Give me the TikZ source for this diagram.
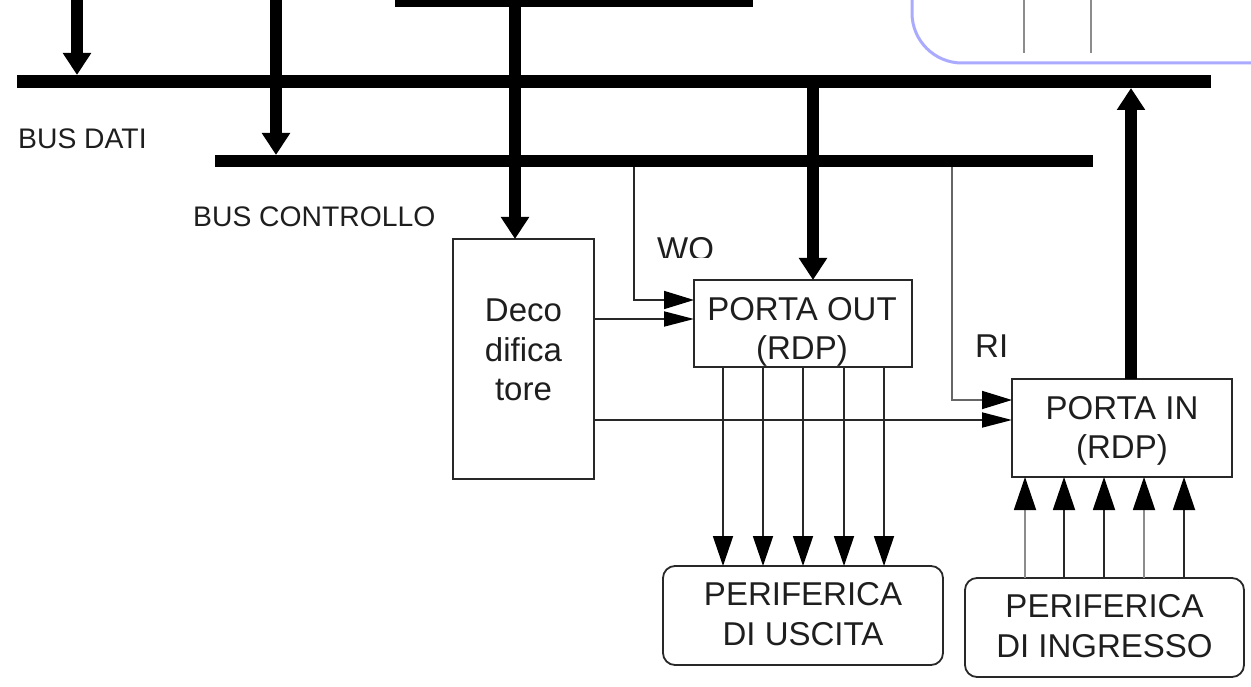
\documentclass[tikz,border=0pt]{standalone}
\usepackage{fontspec}
\setmainfont{Liberation Sans}
\usetikzlibrary{arrows.meta}
\definecolor{ink}{RGB}{40,40,40}
\definecolor{txt}{RGB}{30,30,30}
\definecolor{lav}{RGB}{170,170,255}
\begin{document}
\begin{tikzpicture}[x=1pt,y=-1pt,
  bus/.style={fill=black, draw=none, inner sep=0pt, outer sep=0pt, anchor=north west},
  boxnode/.style={draw=ink, line width=1.8pt, inner sep=0pt, outer sep=0pt, anchor=north west},
  rbox/.style={boxnode, rounded corners=12pt},
  lbl/.style={text=txt, inner sep=0pt, align=center, font=\fontsize{33}{39.5}\selectfont},
  buslbl/.style={text=txt, inner sep=0pt, anchor=base west, font=\fontsize{28.3}{34}\selectfont},
  bigarrow/.style={line width=12pt, -{Triangle[length=22pt,width=27pt]}},
  sigarrow/.style={draw=ink, line width=1.8pt, -{Triangle[length=30pt,width=18pt,black]}},
  decarrow/.style={draw=ink, line width=1.8pt, -{Triangle[length=30pt,width=15pt,black]}},
  downarrow/.style={draw=ink, line width=1.8pt, -{Triangle[length=30pt,width=20pt,black]}},
  uparrow/.style={line width=1.8pt, -{Triangle[length=33pt,width=22pt,black]}}]
\useasboundingbox (0,0) rectangle (1251,687);

% top-right blue frame and lines
\draw[lav, line width=3pt, rounded corners=50pt] (912,-10) -- (912,63) -- (1270,63);
\draw[black!45, line width=1.5pt] (1024,0) -- (1024,53);
\draw[black!45, line width=1.5pt] (1091,0) -- (1091,53);

% buses
\node[bus, minimum width=358pt, minimum height=12pt] (topbar) at (395,-5) {};
\node[bus, minimum width=1194pt, minimum height=13pt] (databus) at (17,75) {};
\node[bus, minimum width=878pt, minimum height=12pt] (ctrlbus) at (215,155) {};

% boxes
\node[boxnode, minimum width=141pt, minimum height=240pt] (deco) at (453,239) {};
\node[boxnode, minimum width=218pt, minimum height=87pt] (pout) at (694,280) {};
\node[boxnode, minimum width=220pt, minimum height=98pt] (pin) at (1012,379) {};
\node[rbox, minimum width=280pt, minimum height=99pt] (perout) at (663,566) {};
\node[rbox, minimum width=279pt, minimum height=99pt] (perin) at (965,578) {};

% box texts
\node[lbl] (decotxt) at (523.5,350) {Deco\\difica\\tore};
\node[lbl] (pouttxt) at (802,332) {PORTA OUT\\(RDP)};
\node[lbl] (pintxt) at (1122,431) {PORTA IN\\(RDP)};
\node[lbl] (perouttxt) at (803,614) {PERIFERICA\\DI USCITA};
\node[lbl] (perintxt) at (1104.5,626) {PERIFERICA\\DI INGRESSO};

% labels
\node[buslbl] (ldati) at (18,149) {BUS DATI};
\node[buslbl] (lctrl) at (193,227) {BUS CONTROLLO};
\begin{scope}
  \clip (600,220) rectangle (760,258);
  \node[buslbl, font=\fontsize{33}{39.5}\selectfont] (lwo) at (657,261) {WO};
\end{scope}
\node[buslbl, font=\fontsize{33}{39.5}\selectfont] (lri) at (975,357) {RI};

% thick arrows
\coordinate (a1) at (77,0);
\coordinate (a2) at (276,0);
\coordinate (a3) at (515,0);
\coordinate (a4) at (813,0);
\coordinate (a5) at (1131,0);
\draw[bigarrow] (a1) -- (a1 |- databus.north);
\draw[bigarrow] (a2) -- (a2 |- ctrlbus.north);
\draw[bigarrow] (a3 |- topbar.center) -- (a3 |- deco.north);
\draw[bigarrow] (a4 |- databus.center) -- (a4 |- pout.north);
\draw[bigarrow] (a5 |- pin.north) -- (a5 |- databus.south);

% control signals
\coordinate (wo) at (634,300);
\coordinate (ri) at (952,400);
\coordinate (d1) at (0,319);
\coordinate (d2) at (0,420);
\draw[sigarrow] (wo |- ctrlbus.south) -- (wo) -- (wo -| pout.west);
\draw[sigarrow, draw=black!60] (ri |- ctrlbus.south) -- (ri) -- (ri -| pin.west);
\draw[decarrow] (d1 -| deco.east) -- (d1 -| pout.west);
\draw[decarrow] (d2 -| deco.east) -- (d2 -| pin.west);

% output lines
\foreach \x [count=\i] in {723,763,803,844,884} {
  \coordinate (o\i) at (\x,0);
  \draw[downarrow] (o\i |- pout.south) -- (o\i |- perout.north);
}
% input lines
\foreach \x/\c [count=\i] in {1025/black!45,1064/ink,1104/ink,1144/black!45,1184/ink} {
  \coordinate (n\i) at (\x,0);
  \draw[uparrow, draw=\c] (n\i |- perin.north) -- (n\i |- pin.south);
}
\end{tikzpicture}
\end{document}
